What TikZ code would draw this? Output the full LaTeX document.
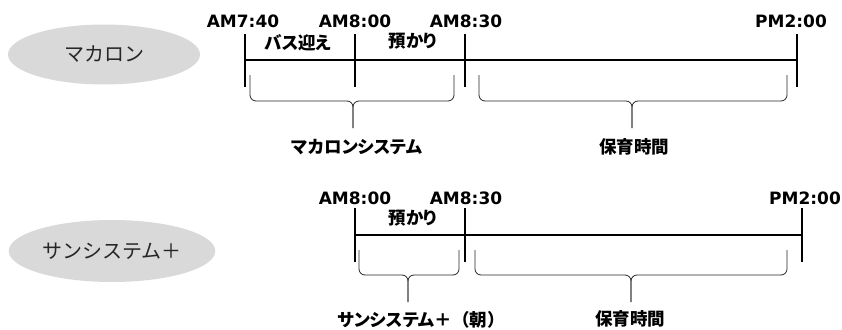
\documentclass[tikz,border=0pt]{standalone}
\usepackage{fontspec}
\setmainfont{DejaVu Sans}
\newfontfamily\jpfont[RawFeature=+palt]{Noto Sans CJK JP}
\newfontfamily\jpwide{Noto Sans CJK JP}
\usetikzlibrary{shapes.geometric}
\definecolor{kgray}{HTML}{D9D9D9}
\tikzset{
	timelabel/.style={font=\bfseries\fontsize{17}{20}\selectfont},
	jplabel/.style={font=\jpfont\bfseries\fontsize{17.5}{20}\selectfont, inner sep=1pt},
	kinder/.style={ellipse, fill=kgray, minimum width=192pt, minimum height=60pt,
		font=\jpwide\fontsize{20}{24}\selectfont, text=black!85},
	bar/.style={line width=1.8pt},
	brc/.style={line width=0.8pt, black!85, rounded corners=6pt},
}
\begin{document}
\begin{tikzpicture}[x=1pt, y=-1pt]
	\useasboundingbox (0,0) rectangle (842,329);

	% upper row
	\draw (104,54.5) node[kinder] (macaron) {マカロン};

	\draw (243,21) node[timelabel] (u740) {AM7:40};
	\draw (355,21) node[timelabel] (u800) {AM8:00};
	\draw (466,21) node[timelabel] (u830) {AM8:30};
	\draw (791,21) node[timelabel] (u200) {PM2:00};
	\draw (298,43) node[jplabel] (bus) {バス迎え};
	\draw (413,41) node[jplabel] (azu1) {預かり};

	\coordinate (ua) at (245,60);
	\coordinate (ub) at (355,60);
	\coordinate (uc) at (465,60);
	\coordinate (ud) at (797,60);
	\draw[bar] (ua) -- (ud);
	\foreach \t in {ua,ub,uc,ud}
		\draw[bar] ([yshift=-27pt]\t) -- ([yshift=26pt]\t);

	\coordinate (utip1) at (353,128);
	\coordinate (utip2) at (632,128);
	\draw[brc] (250,75) -- (250,101) -- (353,101) -- (utip1);
	\draw[brc] (454,75) -- (454,101) -- (353,101) -- (utip1);
	\draw[brc] (479,75) -- (479,101) -- (632,101) -- (utip2);
	\draw[brc] (787,75) -- (787,101) -- (632,101) -- (utip2);
	\draw (357,147) node[jplabel] (msys) {マカロンシステム};
	\draw (634,147) node[jplabel] (hoiku1) {保育時間};

	% lower row
	\draw (112,251) node[kinder, minimum width=193pt, minimum height=62pt] (sun) {サンシステム＋};

	\draw (355,198) node[timelabel] (l800) {AM8:00};
	\draw (466,198) node[timelabel] (l830) {AM8:30};
	\draw (805,198) node[timelabel] (l200) {PM2:00};
	\draw (413,218) node[jplabel] (azu2) {預かり};

	\coordinate (la) at (355,235);
	\coordinate (lb) at (465,235);
	\coordinate (lc) at (802,235);
	\draw[bar] (la) -- (lc);
	\foreach \t in {la,lb,lc}
		\draw[bar] ([yshift=-27pt]\t) -- ([yshift=27pt]\t);

	\coordinate (ltip1) at (408,302);
	\coordinate (ltip2) at (631,302);
	\draw[brc] (359,250) -- (359,275) -- (408,275) -- (ltip1);
	\draw[brc] (459,250) -- (459,275) -- (408,275) -- (ltip1);
	\draw[brc] (475,250) -- (475,275) -- (631,275) -- (ltip2);
	\draw[brc] (787,250) -- (787,275) -- (631,275) -- (ltip2);
	\draw (421,320) node[jplabel] (ssys) {サンシステム{\jpwide ＋（朝）}};
	\draw (630,319) node[jplabel] (hoiku2) {保育時間};
\end{tikzpicture}
\end{document}
